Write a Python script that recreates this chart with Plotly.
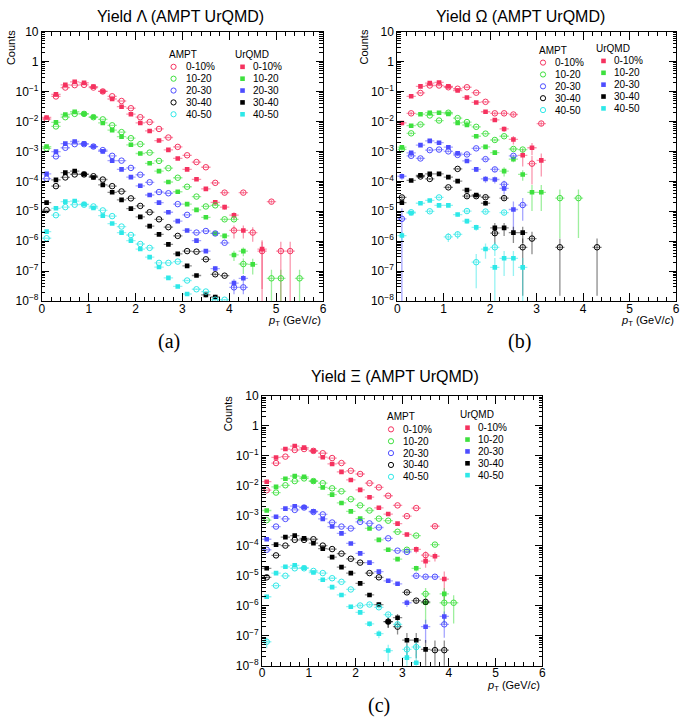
import math
import plotly.graph_objects as go

N = None
PT = [0.1, 0.3, 0.5, 0.7, 0.9, 1.1, 1.3, 1.5, 1.7, 1.9, 2.1, 2.3, 2.5, 2.7, 2.9,
      3.1, 3.3, 3.5, 3.7, 3.9, 4.1, 4.3, 4.5, 4.7, 4.9, 5.1, 5.3, 5.5, 5.7, 5.9]
CENTRALITIES = ["0-10%", "10-20", "20-30", "30-40", "40-50"]
TITLES = ["Yield \u039b (AMPT UrQMD)", "Yield \u03a9 (AMPT UrQMD)", "Yield \u039e (AMPT UrQMD)"]
PANEL_TAGS = ["(a)", "(b)", "(c)"]
Y_TICKS = [1e-8, 1e-7, 1e-6, 1e-5, 1e-4, 1e-3, 1e-2, 1e-1, 1, 10]
Y_TICKTEXT = ["10<sup>\u22128</sup>", "10<sup>\u22127</sup>", "10<sup>\u22126</sup>", "10<sup>\u22125</sup>",
              "10<sup>\u22124</sup>", "10<sup>\u22123</sup>", "10<sup>\u22122</sup>", "10<sup>\u22121</sup>", "1", "10"]

# ---------------- Lambda (panel a) ----------------
LAM_AMPT_0_10 = [1.2e-2, 6.8e-2, 1.35e-1, 1.62e-1, 1.66e-1, 1.35e-1, 1.0e-1, 6.9e-2, 4.8e-2, 2.75e-2, 1.38e-2, 9.5e-3,
                 5.6e-3, 2.9e-3, 1.41e-3, 7.4e-4, 4.4e-4, 2.95e-4, 8.9e-5, 4.2e-5, 2.3e-6, 4.2e-5, 1.95e-6, 4.7e-7,
                 2.1e-5, 4.7e-7, 4.7e-7]
LAM_URQMD_0_10 = [1.35e-2, 8.0e-2, 1.66e-1, 2.1e-1, 1.95e-1, 1.45e-1, 1.0e-1, 5.6e-2, 3.1e-2, 1.74e-2, 8.9e-3, 4.8e-3,
                  2.3e-3, 1.12e-3, 5.8e-4, 2.5e-4, 1.17e-4, 5.6e-5, 2.0e-5, 1.38e-5, 7.4e-6, 2.3e-6, N, 5.5e-7]
LAM_AMPT_10_20 = [1.26e-3, 6.8e-3, 1.38e-2, 1.78e-2, 1.78e-2, 1.38e-2, 1.17e-2, 7.4e-3, 4.4e-3, 2.75e-3, 1.74e-3, 9.1e-4,
                  4.8e-4, 2.75e-4, 1.32e-4, 6.6e-5, 3.1e-5, 1.45e-5, 1.58e-5, 5.4e-6, 5.4e-6, 1.74e-7, N, N,
                  5.8e-8, 5.8e-8, N, 5.8e-8]
LAM_URQMD_10_20 = [1.45e-3, 9.3e-3, 1.7e-2, 2.1e-2, 1.8e-2, 1.4e-2, 8.9e-3, 5.1e-3, 3.1e-3, 1.66e-3, 8.5e-4, 4.0e-4,
                   2.2e-4, 9.5e-5, 4.5e-5, 1.74e-5, 1.12e-5, 6.3e-6, 1.82e-6, 1.51e-6, 3.5e-7, 4.7e-7, 1.7e-7]
LAM_AMPT_20_30 = [1.23e-4, 6.8e-4, 1.32e-3, 1.74e-3, 1.74e-3, 1.45e-3, 1.1e-3, 7.1e-4, 4.9e-4, 2.8e-4, 1.66e-4, 9.3e-5,
                  4.4e-5, 4.0e-5, 1.74e-5, 7.6e-6, 1.95e-6, 2.2e-6, 1.82e-6, 8.9e-7, 2.9e-8, 2.9e-8]
LAM_URQMD_20_30 = [1.78e-4, 9.8e-4, 1.82e-3, 2.14e-3, 1.82e-3, 1.45e-3, 1.0e-3, 4.9e-4, 2.5e-4, 1.38e-4, 7.1e-5, 3.5e-5,
                   1.95e-5, 9.3e-6, 4.7e-6, 2.3e-6, 1.05e-6, 4.7e-7, 1.23e-7, N, 4.0e-8, 5.8e-8]
LAM_AMPT_30_40 = [1.1e-5, 6.9e-5, 1.35e-4, 1.7e-4, 1.7e-4, 1.48e-4, 1.15e-4, 6.9e-5, 4.6e-5, 2.7e-5, 1.51e-5, 9.3e-6,
                  5.4e-6, 2.95e-6, 1.51e-6, 4.7e-7, 4.5e-7, 2.5e-7, 7.9e-8, 7.1e-8]
LAM_URQMD_30_40 = [1.95e-5, 1.12e-4, 1.95e-4, 2.2e-4, 1.74e-4, 1.35e-4, 7.6e-5, 4.3e-5, 2.4e-5, 1.23e-5, 6.5e-6, 3.2e-6,
                   1.7e-6, 7.9e-7, 3.8e-7, 1.51e-7, 7.2e-8, 1.62e-8, 1.38e-8]
LAM_AMPT_40_50 = [1.26e-6, 7.4e-6, 1.38e-5, 1.66e-5, 1.66e-5, 1.45e-5, 1.07e-5, 6.9e-6, 3.1e-6, 1.62e-6, 8.1e-7, 6.0e-7,
                  1.9e-7, 1.9e-7, 2.1e-7, 4.9e-8, 2.5e-8, 2.1e-8, 1.12e-8, 1.12e-8]
LAM_URQMD_40_50 = [2.1e-6, 1.26e-5, 2.1e-5, 2.2e-5, 1.74e-5, 1.29e-5, 7.2e-6, 3.9e-6, 1.95e-6, 1.05e-6, 5.5e-7, 2.95e-7,
                   1.38e-7, 6.0e-8, 3.1e-8, 1.74e-8]
# size of one entry (sets the statistical error bars) per centrality
LAM_UNIT = [5e-7, 5e-8, 5e-9, 5e-10, 5e-11]

# ---------------- Omega (panel b) ----------------
OME_AMPT_0_10 = [N, 1.86e-2, 8.9e-2, 1.58e-1, 1.58e-1, 1.38e-1, 1.23e-1, 1.38e-1, 9.1e-2, 4.5e-2, 1.86e-2, 1.86e-2,
                 1.7e-2, N, 3.9e-4, 8.5e-3]
OME_URQMD_0_10 = [8.9e-3, 6.9e-2, 1.48e-1, 1.9e-1, 2.0e-1, 1.48e-1, 1.07e-1, 6.3e-2, 4.3e-2, 2.1e-2, 1.12e-2, 5.6e-3,
                  2.5e-3, 7.4e-4, 1.32e-3, 5.0e-4]
OME_AMPT_10_20 = [1.17e-3, 4.0e-3, 7.9e-3, 1.58e-2, 1.07e-2, 1.95e-2, 1.29e-2, 9.5e-3, 6.6e-3, 3.9e-3, 2.4e-3, 3.2e-3,
                  1.2e-3, 1.15e-3, N, N, N, 2.75e-5, N, 2.75e-5]
OME_URQMD_10_20 = [1.38e-3, 7.2e-3, 1.74e-2, 1.95e-2, 1.95e-2, 1.78e-2, 8.9e-3, 7.6e-3, 3.2e-3, 1.41e-3, 9.1e-4, 2.2e-4,
                   5.5e-4, 1.7e-4, 4.3e-5, 4.3e-5]
OME_AMPT_20_30 = [5.6e-6, 7.1e-4, 5.8e-4, 1.1e-3, 1.15e-3, 1.0e-3, 7.6e-4, 7.9e-4, 1.26e-3, 5.5e-4, 2.5e-4, 7.9e-5,
                  7.1e-4, 1.62e-5]
OME_URQMD_20_30 = [1.48e-4, 8.9e-4, 1.62e-3, 2.24e-3, 1.95e-3, 1.38e-3, 8.7e-4, 4.8e-4, 2.5e-4, 1.2e-4, 1.15e-4, 5.8e-5,
                   1.15e-5]
OME_AMPT_30_40 = [2.9e-5, N, 1.45e-4, 1.2e-4, N, 6.3e-5, 2.6e-4, 3.2e-5, 3.2e-5, 2.95e-5, 1.86e-6, 2.75e-5,
                  N, 6.3e-7, 1.23e-6, N, N, 6.3e-7, N, N, N, 6.3e-7]
OME_URQMD_30_40 = [1.95e-5, 1.07e-4, 1.58e-4, 1.78e-4, 1.78e-4, 1.38e-4, 1.02e-4, 5.1e-5, 3.5e-5, 1.86e-5, 2.8e-6, 2.8e-6,
                   1.95e-6, 1.95e-6]
OME_AMPT_40_50 = [N, 9.3e-6, N, 1.0e-5, 2.9e-5, 1.41e-6, 1.7e-6, 1.02e-5, 2.0e-7, 9.8e-6, 6.3e-7, 9.1e-6]
OME_URQMD_40_50 = [1.55e-6, 8.7e-6, 1.86e-5, 2.3e-5, 1.58e-5, 1.58e-5, 7.8e-6, 4.7e-6, 2.9e-6, 5.5e-7, 1.35e-7, 2.7e-7,
                   2.7e-7, 1.35e-7]
OME_UNIT = [2.5e-4, 2.5e-5, 8e-6, 6e-7, 1.5e-7]

# ---------------- Xi (panel c) ----------------
XI_AMPT_0_10 = [7.2e-3, 5.8e-2, 9.5e-2, 1.58e-1, 1.7e-1, 1.48e-1, 1.23e-1, 8.5e-2, 5.8e-2, 3.2e-2, 2.5e-2, 1.23e-2,
                8.9e-3, 4.7e-3, 2.24e-3, 9.8e-4, 1.82e-3, 4.9e-5, 4.5e-4]
XI_URQMD_0_10 = [1.38e-2, 8.9e-2, 1.7e-1, 2.14e-1, 1.9e-1, 1.48e-1, 9.1e-2, 5.4e-2, 2.95e-2, 1.58e-2, 7.4e-3, 4.2e-3,
                 1.86e-3, 1.15e-3, 5.5e-4, 2.4e-4, 7.6e-5, 3.1e-5, 4.5e-5, 7.8e-6]
XI_AMPT_10_20 = [7.2e-4, 6.0e-3, 1.05e-2, 1.45e-2, 1.78e-2, 1.45e-2, 1.23e-2, 8.3e-3, 6.6e-3, 3.6e-3, 2.24e-3, 1.51e-3,
                 8.1e-4, 6.9e-4, 2.95e-4, 7.4e-5, 2.2e-4, 2.5e-6, 1.1e-4, 1.26e-6, 1.26e-6]
XI_URQMD_10_20 = [1.51e-3, 9.3e-3, 1.74e-2, 2.14e-2, 2.0e-2, 1.45e-2, 8.9e-3, 5.1e-3, 2.7e-3, 1.41e-3, 8.1e-4, 3.8e-4,
                  1.58e-4, 7.4e-5, 3.6e-5, N, 1.78e-5, 1.26e-6, N, 2.5e-6]
XI_AMPT_20_30 = [7.4e-5, 4.4e-4, 7.9e-4, 1.58e-3, 1.9e-3, 1.35e-3, 1.12e-3, 6.0e-4, 4.4e-4, 3.8e-4, 6.3e-4, 5.6e-4,
                 4.1e-4, 1.78e-4, 6.9e-5, 6.3e-5, 1.0e-5, 9.3e-6, 9.3e-6, 2.4e-7]
XI_URQMD_20_30 = [1.66e-4, 9.3e-4, 1.74e-3, 2.1e-3, 1.95e-3, 1.41e-3, 7.9e-4, 4.4e-4, 2.6e-4, 1.2e-4, 5.6e-5, 2.75e-5,
                  1.38e-5, 6.8e-6, 5.4e-6, 1.26e-6, N, 2.0e-7, N, 4.4e-7]
XI_AMPT_30_40 = [8.9e-6, 4.8e-5, 1.02e-4, 1.58e-4, 1.58e-4, 1.66e-4, 1.02e-4, 7.8e-5, 5.5e-5, 3.7e-5, 2.75e-5, 1.23e-5,
                 8.9e-6, 2.95e-7, 2.0e-7, 2.8e-6, 1.48e-6, 1.35e-6, 3.3e-8, 3.3e-8]
XI_URQMD_30_40 = [1.78e-5, 1.1e-4, 1.95e-4, 2.2e-4, 1.78e-4, 1.23e-4, 8.1e-5, 4.2e-5, 1.95e-5, 1.23e-5, 5.6e-6, 2.3e-6,
                  1.1e-6, 2.95e-7, 4.0e-7, 7.1e-8, 7.1e-8, 3.5e-8]
XI_AMPT_40_50 = [6.3e-8, 4.7e-6, 1.0e-5, 1.78e-5, 1.78e-5, 1.45e-5, 1.23e-5, 8.3e-6, 6.3e-6, 3.5e-6, 1.02e-6, 1.1e-6,
                 8.9e-7, 5.1e-7, 2.4e-7, 3.5e-8, 4.2e-8]
XI_URQMD_40_50 = [2.0e-6, 1.23e-5, 2.0e-5, 2.24e-5, 1.86e-5, 1.29e-5, 7.4e-6, 4.2e-6, 2.3e-6, 9.3e-7, 6.0e-7, 2.5e-7,
                  1.17e-7, 3.2e-8, N, 1.86e-8, 1.26e-8]
XI_UNIT = [5e-6, 8e-7, 1e-7, 4e-8, 1e-8]

PANELS = [
    dict(ampt=[LAM_AMPT_0_10, LAM_AMPT_10_20, LAM_AMPT_20_30, LAM_AMPT_30_40, LAM_AMPT_40_50],
         urqmd=[LAM_URQMD_0_10, LAM_URQMD_10_20, LAM_URQMD_20_30, LAM_URQMD_30_40, LAM_URQMD_40_50],
         unit=LAM_UNIT),
    dict(ampt=[OME_AMPT_0_10, OME_AMPT_10_20, OME_AMPT_20_30, OME_AMPT_30_40, OME_AMPT_40_50],
         urqmd=[OME_URQMD_0_10, OME_URQMD_10_20, OME_URQMD_20_30, OME_URQMD_30_40, OME_URQMD_40_50],
         unit=OME_UNIT),
    dict(ampt=[XI_AMPT_0_10, XI_AMPT_10_20, XI_AMPT_20_30, XI_AMPT_30_40, XI_AMPT_40_50],
         urqmd=[XI_URQMD_0_10, XI_URQMD_10_20, XI_URQMD_20_30, XI_URQMD_30_40, XI_URQMD_40_50],
         unit=XI_UNIT),
]

# ---------------- styling / layout ----------------
W, H = 685, 723
COLORS = ["#f5325f", "#3ee03e", "#4d4dff", "#000000", "#2ee8e8"]
ERR_COLORS = ["rgba(245,50,95,0.5)", "rgba(62,224,62,0.5)", "rgba(77,77,255,0.5)",
              "rgba(0,0,0,0.45)", "rgba(46,232,232,0.5)"]
FONT = "Liberation Sans, Arial, sans-serif"

# plot-area boxes in pixels: (left, right, top, bottom)
BOXES = [(39.3, 323.3, 25.0, 300.0), (398.3, 680.0, 25.0, 300.0), (261.7, 545.0, 396.7, 671.7)]


def px(x):
    return x / W


def py(y):
    return 1 - y / H


fig = go.Figure()

for p, panel in enumerate(PANELS):
    xa = "x" if p == 0 else f"x{p + 1}"
    ya = "y" if p == 0 else f"y{p + 1}"
    for k in range(5):
        for model, series in (("AMPT", panel["ampt"][k]), ("UrQMD", panel["urqmd"][k])):
            xs, ys, es = [], [], []
            for x, v in zip(PT, series):
                if v is None:
                    continue
                xs.append(x)
                ys.append(v)
                es.append(math.sqrt(v * panel["unit"][k]))
            if model == "AMPT":
                marker = dict(symbol="circle-open", size=5.5, color=COLORS[k], line=dict(width=1.0, color=COLORS[k]))
            else:
                marker = dict(symbol="square", size=4.6, color=COLORS[k], line=dict(width=0))
            fig.add_trace(go.Scatter(
                x=xs, y=ys, mode="markers", marker=marker, xaxis=xa, yaxis=ya,
                name=f"{model} {CENTRALITIES[k]}", showlegend=False,
                error_x=dict(type="constant", value=0.1, color=ERR_COLORS[k], thickness=1.3, width=0),
                error_y=dict(type="data", array=es, symmetric=True, color=ERR_COLORS[k], thickness=1.3, width=0),
            ))

layout = dict(width=W, height=H, margin=dict(l=0, r=0, t=0, b=0), paper_bgcolor="white",
              plot_bgcolor="white", showlegend=False, font=dict(family=FONT, color="black"))

for p, (l, r, t, b) in enumerate(BOXES):
    xk = "xaxis" if p == 0 else f"xaxis{p + 1}"
    yk = "yaxis" if p == 0 else f"yaxis{p + 1}"
    xa = "x" if p == 0 else f"x{p + 1}"
    ya = "y" if p == 0 else f"y{p + 1}"
    layout[xk] = dict(domain=[px(l), px(r)], anchor=ya, range=[0, 6], tick0=0, dtick=1,
                      ticks="inside", ticklen=8, tickwidth=1, tickcolor="black",
                      showline=True, linecolor="black", linewidth=1, mirror="allticks",
                      showgrid=False, zeroline=False, tickfont=dict(size=12, family=FONT),
                      ticklabelstandoff=-4,
                      minor=dict(dtick=0.2, ticks="inside", ticklen=4, tickcolor="black", showgrid=False))
    layout[yk] = dict(domain=[py(b), py(t)], anchor=xa, type="log", range=[-8, 1],
                      tickmode="array", tickvals=Y_TICKS, ticktext=Y_TICKTEXT,
                      ticks="inside", ticklen=7, tickwidth=1, tickcolor="black",
                      showline=True, linecolor="black", linewidth=1, mirror="allticks",
                      showgrid=False, zeroline=False, tickfont=dict(size=12, family=FONT),
                      minor=dict(dtick="D1", ticks="inside", ticklen=3.5, tickcolor="black", showgrid=False))

annotations = []
shapes = []

# titles, axis titles, panel tags
TITLE_POS = [(179, 9.5), (522.5, 9.5), (396, 377)]
COUNTS_POS = [(7.5, 41.5), (365, 41), (228, 414.5)]
XTITLE_POS = [(323.3, 320), (680, 320), (545, 692)]
TAG_POS = [(168, 341), (522, 341), (380, 712)]
for p in range(3):
    annotations.append(dict(text=TITLES[p], x=px(TITLE_POS[p][0]), y=py(TITLE_POS[p][1]), xref="paper", yref="paper",
                            showarrow=False, xanchor="center", yanchor="middle", font=dict(size=16, family=FONT)))
    annotations.append(dict(text="Counts", x=px(COUNTS_POS[p][0]), y=py(COUNTS_POS[p][1]), xref="paper",
                            yref="paper", showarrow=False, textangle=-90, xanchor="center", yanchor="middle",
                            font=dict(size=11, family=FONT)))
    annotations.append(dict(text="<i>p</i><sub>T</sub> (GeV/<i>c</i>)", x=px(XTITLE_POS[p][0]),
                            y=py(XTITLE_POS[p][1]), xref="paper", yref="paper", showarrow=False,
                            xanchor="right", yanchor="middle", font=dict(size=11, family=FONT)))
    annotations.append(dict(text=PANEL_TAGS[p], x=px(TAG_POS[p][0]), y=py(TAG_POS[p][1]), xref="paper",
                            yref="paper", showarrow=False, xanchor="center", yanchor="middle",
                            font=dict(size=20, family="Liberation Serif, DejaVu Serif, serif")))

# legends (pixel anchors): AMPT header (x, y), first row y; UrQMD header (x, y), first row y
LEG = [
    dict(ax=166, ay=48.3, ar=61.0, ux=232, uy=48.3, ur=61.0, step=12.1),
    dict(ax=539.3, ay=44.0, ar=56.7, ux=596.7, uy=42.3, ur=55.0, step=12.1),
    dict(ax=385.7, ay=417.7, ar=430.7, ux=459.3, uy=416.0, ur=429.0, step=12.1),
]
for lg in LEG:
    annotations.append(dict(text="AMPT", x=px(lg["ax"]), y=py(lg["ay"]), xref="paper", yref="paper",
                            showarrow=False, xanchor="left", yanchor="middle", font=dict(size=10, family=FONT)))
    annotations.append(dict(text="UrQMD", x=px(lg["ux"]), y=py(lg["uy"]), xref="paper", yref="paper",
                            showarrow=False, xanchor="left", yanchor="middle", font=dict(size=10, family=FONT)))
    for k in range(5):
        ya_ = lg["ar"] + k * lg["step"]
        yu_ = lg["ur"] + k * lg["step"]
        shapes.append(dict(type="circle", xref="paper", yref="paper", xsizemode="pixel", ysizemode="pixel",
                           xanchor=px(lg["ax"] + 6.3), yanchor=py(ya_), x0=-2.6, x1=2.6, y0=-2.6, y1=2.6,
                           line=dict(color=COLORS[k], width=1.0), fillcolor="rgba(0,0,0,0)"))
        annotations.append(dict(text=CENTRALITIES[k], x=px(lg["ax"] + 16.7), y=py(ya_), xref="paper",
                                yref="paper", showarrow=False, xanchor="left", yanchor="middle",
                                font=dict(size=10, family=FONT)))
        shapes.append(dict(type="rect", xref="paper", yref="paper", xsizemode="pixel", ysizemode="pixel",
                           xanchor=px(lg["ux"] + 10), yanchor=py(yu_), x0=-2.3, x1=2.3, y0=-2.3, y1=2.3,
                           line=dict(width=0), fillcolor=COLORS[k]))
        annotations.append(dict(text=CENTRALITIES[k], x=px(lg["ux"] + 18.7), y=py(yu_), xref="paper",
                                yref="paper", showarrow=False, xanchor="left", yanchor="middle",
                                font=dict(size=10, family=FONT)))

layout["annotations"] = annotations
layout["shapes"] = shapes
fig.update_layout(**layout)
fig.write_html("out.html", config={"displayModeBar": False},
               post_script="document.body.style.margin='0px';document.body.style.padding='0px';")
